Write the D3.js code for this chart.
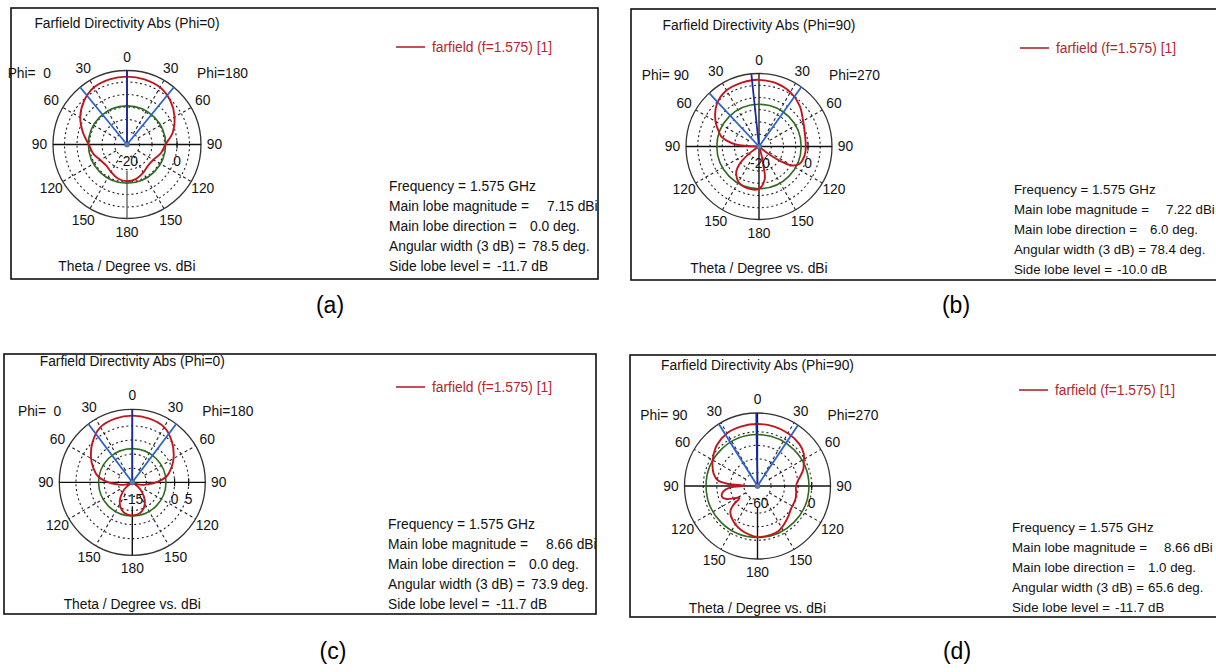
<!DOCTYPE html>
<html><head><meta charset="utf-8">
<script src="https://cdn.jsdelivr.net/npm/d3@7"></script>
<style>
html,body{margin:0;padding:0;background:#fff;overflow:hidden}
svg{display:block}
text{font-family:Tahoma,'Liberation Sans',Arial,sans-serif}
</style></head><body>
<svg id="chart" width="1216" height="672"></svg>
<script>
// ---------------- data ----------------
const panelLetters = ["(a)", "(b)", "(c)", "(d)"];
const plotTitles = ["Farfield Directivity Abs (Phi=0)", "Farfield Directivity Abs (Phi=90)", "Farfield Directivity Abs (Phi=0)", "Farfield Directivity Abs (Phi=90)"];
const phiLeftLabels = ["Phi=  0", "Phi= 90", "Phi=  0", "Phi= 90"];
const phiRightLabels = ["Phi=180", "Phi=270", "Phi=180", "Phi=270"];
const thetaTicks = [0, 30, 60, 90, 120, 150, 180];
const legendLabel = "farfield (f=1.575) [1]";
const axisCaption = "Theta / Degree vs. dBi";
const frequencyGHz = 1.575;
const mainLobeMag = [7.15, 7.22, 8.66, 8.66];
const mainLobeDir = [0.0, 6.0, 0.0, 1.0];
const angularWidth = [78.5, 78.4, 73.9, 65.6];
const sideLobeLevel = [-11.7, -10.0, -11.7, -11.7];
// drawn directions (negative = left half of the plot)
const mainLobeAngle = [0, -6, 0, -1];
const beamEdgeLeft = [-39.25, -43, -36.95, -32];
const beamEdgeRight = [39.25, 35.4, 36.95, 33.6];
// radial dB scale
const radialMin = [-20, -20, -15, -60];
const radialMax = [9.6, 9.8, 10.9, 20.8];
const gridA = [-15, -10, -5, 0, 5];
const gridB = [-15, -10, -5, 0, 5];
const gridC = [-10, -5, 0, 5];
const gridD = [-45, -30, -15, 0];
const radialLabelsA = [-20, 0];
const radialLabelsB = [-20, 0];
const radialLabelsC = [-15, 0, 5];
const radialLabelsD = [-60, 0];
// patterns: theta (deg, negative = left half) and directivity (dBi)
const thetaA = [-180,-165,-150,-135,-120,-105,-90,-75,-60,-45,-30,-15,0,15,30,45,60,75,90,105,120,135,150,165];
const gainA  = [-5.3,-5.9,-7.3,-8.2,-7.6,-6.0,-4.7,-1.8,1.6,4.4,6.4,7.0,7.15,7.0,6.4,4.6,2.0,-1.0,-4.6,-6.1,-7.8,-8.1,-7.0,-5.8];
const thetaB = [-180,-165,-150,-140,-135,-130,-125,-120,-105,-90,-85,-80,-75,-70,-60,-45,-30,-15,-6,0,15,30,45,60,75,90,100,113,120,124,128,135,158,163,167,170];
const gainB  = [-2.7,-2.3,-3.3,-5.5,-7.5,-11,-16,-22,-22,-22,-10.5,-6.8,-4.0,-2.6,0.5,4.4,6.5,7.0,7.22,7.2,6.8,5.6,3.5,0.8,-0.6,-0.9,-1.0,-2.0,-4.5,-9,-15,-22,-22,-17,-12,-6.5];
const thetaC = [-180,-165,-155,-145,-135,-128,-120,-112,-105,-97,-90,-80,-70,-60,-45,-30,-15,0,15,30,45,60,70,80,90,97,105,112,120,128,135,145,155,165];
const gainC  = [-3.2,-3.8,-5.2,-7.3,-10.2,-12.5,-15.5,-13.5,-11.5,-9.5,-6.5,-2.6,-0.3,1.9,5.0,7.6,8.4,8.66,8.4,7.6,5.0,1.9,-0.3,-2.6,-6.5,-9.5,-11.5,-13.5,-15.5,-12.5,-10.2,-7.3,-5.2,-3.8];
const thetaD = [-180,-170,-160,-150,-140,-133,-128,-124,-120,-113,-107,-100,-93,-89,-86,-82,-75,-65,-55,-45,-30,-15,0,15,30,45,55,62,70,78,85,92,100,110,125,135,145,155,165];
const gainD  = [-3.5,-5.5,-8,-11,-15,-19,-26,-36,-34,-23,-19,-21,-30,-45,-28,-16,-10,-5.0,-0.5,3.8,7.5,8.4,8.66,8.4,7.5,5.6,2.5,-2,-6,-12,-16,-17.5,-16.5,-15.5,-15,-12,-8.5,-5,-4];

const thetaSets = [thetaA, thetaB, thetaC, thetaD];
const gainSets = [gainA, gainB, gainC, gainD];
const gridSets = [gridA, gridB, gridC, gridD];
const radialLabelSets = [radialLabelsA, radialLabelsB, radialLabelsC, radialLabelsD];

// ---------------- layout ----------------
const layout = [
  {cx:127, cy:144.5, R:74, frame:[11,8,598,279], bottomStart:26, phiL:-76, legend:[396,47], info:[389,186], infoFS:13.8, offs:[0,158,141,143,108], caption:[330,305]},
  {cx:759, cy:146.5, R:73, frame:[631,9,1240,280], bottomStart:0, phiL:-70, legend:[1020,48], info:[1014,189], infoFS:13.3, offs:[0,152,136,136,103], caption:[956,305]},
  {cx:132.3, cy:482.3, R:73, frame:[4,354,596,614], bottomStart:24, phiL:-71, legend:[396,387], info:[388,524], infoFS:13.8, offs:[0,158,141,143,108], caption:[333,651]},
  {cx:757.5, cy:486, R:73, frame:[630,355,1240,617], bottomStart:22, phiL:-70, legend:[1019,390], info:[1012,527], infoFS:13.3, offs:[0,152,136,136,103], caption:[957,651]}
];

const RED = "#c0171f", GREEN = "#2f6a1f", NAVY = "#1d2a9c", BLUE = "#2a62d2", INK = "#111";
const FS = 13.8;

const svg = d3.select("#chart");
const rad = d => d * Math.PI / 180;

layout.forEach((L, i) => {
  const g = svg.append("g");
  const [fx0, fy0, fx1, fy1] = L.frame;
  g.append("rect").attr("x", fx0).attr("y", fy0).attr("width", fx1 - fx0).attr("height", fy1 - fy0)
    .attr("fill", "#fff").attr("stroke", "#111").attr("stroke-width", 1.6);

  const r = d3.scaleLinear().domain([radialMin[i], radialMax[i]]).range([0, L.R]).clamp(true);
  const p = g.append("g").attr("transform", `translate(${L.cx},${L.cy})`);
  const grid = gridSets[i];
  const rInner = r(d3.min(grid));

  // dashed grid circles
  p.selectAll("circle.grid").data(grid).join("circle").attr("class", "grid")
    .attr("r", d => r(d)).attr("fill", "none").attr("stroke", "#222")
    .attr("stroke-width", 1.1).attr("stroke-dasharray", "2,2.8");
  // dashed spokes
  const spokes = [30, 60, 120, 150, -30, -60, -120, -150];
  p.selectAll("line.spoke").data(spokes).join("line").attr("class", "spoke")
    .attr("x1", d => rInner * Math.sin(rad(d))).attr("y1", d => -rInner * Math.cos(rad(d)))
    .attr("x2", d => L.R * Math.sin(rad(d))).attr("y2", d => -L.R * Math.cos(rad(d)))
    .attr("stroke", "#222").attr("stroke-width", 1.1).attr("stroke-dasharray", "3,2.8");
  // outer circle
  p.append("circle").attr("r", L.R).attr("fill", "none").attr("stroke", "#333").attr("stroke-width", 1.3);
  // axes
  p.append("line").attr("x1", -L.R).attr("x2", L.R).attr("y1", 0).attr("y2", 0).attr("stroke", INK).attr("stroke-width", 1.3);
  p.append("line").attr("x1", 0).attr("x2", 0).attr("y1", 0).attr("y2", -L.R).attr("stroke", INK).attr("stroke-width", 1.3);
  p.append("line").attr("x1", 0).attr("x2", 0).attr("y1", L.bottomStart).attr("y2", L.R).attr("stroke", i === 0 ? "#666" : INK).attr("stroke-width", 1.4);
  // radial ticks
  const labs = radialLabelSets[i];
  p.selectAll("line.rtick").data(labs.filter(v => r(v) > 0)).join("line").attr("class", "rtick")
    .attr("x1", d => r(d)).attr("x2", d => r(d)).attr("y1", -4).attr("y2", 4)
    .attr("stroke", INK).attr("stroke-width", 1.2);

  // side lobe circle
  p.append("circle").attr("r", r(mainLobeMag[i] + sideLobeLevel[i])).attr("fill", "none")
    .attr("stroke", GREEN).attr("stroke-width", 1.6);

  // pattern
  const pts = thetaSets[i].map((t, k) => [rad(t), r(gainSets[i][k])]);
  const line = d3.lineRadial().angle(d => d[0]).radius(d => d[1]).curve(d3.curveCatmullRomClosed.alpha(0.5));
  p.append("path").attr("d", line(pts)).attr("fill", "none").attr("stroke", RED).attr("stroke-width", 1.9);

  // beam lines
  [beamEdgeLeft[i], beamEdgeRight[i]].forEach(a => {
    p.append("line").attr("x1", 0).attr("y1", 0)
      .attr("x2", L.R * Math.sin(rad(a))).attr("y2", -L.R * Math.cos(rad(a)))
      .attr("stroke", BLUE).attr("stroke-width", 1.8);
  });
  p.append("line").attr("x1", 0).attr("y1", 0)
    .attr("x2", L.R * Math.sin(rad(mainLobeAngle[i]))).attr("y2", -L.R * Math.cos(rad(mainLobeAngle[i])))
    .attr("stroke", NAVY).attr("stroke-width", 1.8);
  p.append("circle").attr("r", 2.6).attr("fill", "#5b7fb5").attr("stroke", "#3a5a90").attr("stroke-width", 0.6);

  // radial labels
  p.selectAll("text.rlab").data(labs).join("text").attr("class", "rlab")
    .attr("x", d => r(d) + (r(d) === 0 ? 1 : 0)).attr("y", 17)
    .attr("text-anchor", "middle").attr("dominant-baseline", "central")
    .attr("font-size", FS).attr("fill", INK).text(d => d);

  // angle labels
  const angLabels = [];
  thetaTicks.forEach(t => {
    angLabels.push({a: t, t});
    if (t > 0 && t < 180) angLabels.push({a: -t, t});
  });
  p.selectAll("text.alab").data(angLabels).join("text").attr("class", "alab")
    .attr("x", d => (L.R + 13.5) * Math.sin(rad(d.a)))
    .attr("y", d => -(L.R + 13.5) * Math.cos(rad(d.a)))
    .attr("text-anchor", "middle").attr("dominant-baseline", "central")
    .attr("font-size", FS).attr("fill", INK).text(d => d.t);

  // phi labels
  p.append("text").attr("x", L.phiL).attr("y", -71).attr("text-anchor", "end").attr("dominant-baseline", "central")
    .attr("font-size", FS).attr("fill", INK).attr("xml:space", "preserve").style("white-space", "pre").text(phiLeftLabels[i]);
  p.append("text").attr("x", 70).attr("y", -71).attr("dominant-baseline", "central")
    .attr("font-size", FS).attr("fill", INK).text(phiRightLabels[i]);

  // title and axis caption
  p.append("text").attr("x", 0).attr("y", -121).attr("text-anchor", "middle").attr("dominant-baseline", "central")
    .attr("font-size", FS).attr("fill", INK).text(plotTitles[i]);
  p.append("text").attr("x", 0).attr("y", 122).attr("text-anchor", "middle").attr("dominant-baseline", "central")
    .attr("font-size", FS).attr("fill", INK).text(axisCaption);

  // legend
  const [lx, ly] = L.legend;
  g.append("line").attr("x1", lx).attr("x2", lx + 29).attr("y1", ly).attr("y2", ly).attr("stroke", "#b3262b").attr("stroke-width", 1.6);
  g.append("text").attr("x", lx + 36).attr("y", ly).attr("dominant-baseline", "central")
    .attr("font-size", FS).attr("fill", "#b3262b").text(legendLabel);

  // info block
  const [ix, iy] = L.info;
  const infoRows = [
    ["Frequency = " + frequencyGHz.toFixed(3) + " GHz", null],
    ["Main lobe magnitude =", mainLobeMag[i].toFixed(2) + " dBi"],
    ["Main lobe direction =", mainLobeDir[i].toFixed(1) + " deg."],
    ["Angular width (3 dB) =", angularWidth[i].toFixed(1) + " deg."],
    ["Side lobe level =", sideLobeLevel[i].toFixed(1) + " dB"]
  ];
  infoRows.forEach((row, k) => {
    const t = g.append("text").attr("x", ix).attr("y", iy + k * 20).attr("dominant-baseline", "central")
      .attr("font-size", L.infoFS).attr("fill", INK);
    t.append("tspan").text(row[0]);
    if (row[1]) t.append("tspan").attr("x", ix + L.offs[k]).text(row[1]);
  });

  // panel caption
  svg.append("text").attr("x", L.caption[0]).attr("y", L.caption[1]).attr("text-anchor", "middle")
    .attr("dominant-baseline", "central").attr("font-family", "'Liberation Serif','Times New Roman',serif")
    .attr("font-size", 23).attr("fill", "#000").text(panelLetters[i]);
});
</script>
</body></html>
